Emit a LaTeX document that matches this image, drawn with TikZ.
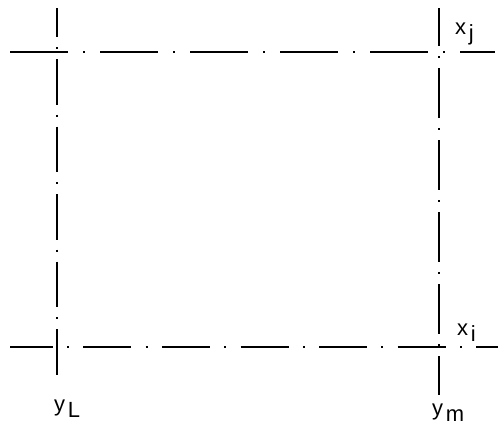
\documentclass[tikz,border=0pt]{standalone}
\usepackage{fontspec}
\setsansfont{Liberation Sans}
\usetikzlibrary{positioning}
\newlength{\px}
\setlength{\px}{0.02cm}
\newcommand{\lowsub}[2]{#1\kern1.5pt\raisebox{-0.6ex}{#2}}

\begin{document}
\begin{tikzpicture}[x=0.02cm, y=-0.02cm, line width=1.3pt,
    gridline/.style n args={2}{dash pattern=on #1\px off #2\px on 2\px off #2\px},
    lbl/.style={font=\sffamily\fontsize{12.5}{14}\selectfont, inner sep=0pt}]
    \useasboundingbox (0,0) rectangle (498,427);

    % line ends
    \coordinate (lt) at (57,8);
    \coordinate (lb) at (57,380);
    \coordinate (rt) at (439,8);
    \coordinate (rb) at (439,395);
    \coordinate (tl) at (10,52);
    \coordinate (tr) at (495,52);
    \coordinate (bl) at (10,347);
    \coordinate (br) at (498,347);

    % verticals
    \draw[gridline={45.5}{10}, dash phase=16.5\px] (lt) -- (lb);
    \draw[gridline={50}{10}, dash phase=12\px] (rt) -- (rb);

    % horizontals
    \draw[gridline={58}{15}] (tl) -- (tr);
    \draw[gridline={48}{14.3}, dash phase=5.3\px] (bl) -- (br);

    % labels
    \node[lbl, anchor=base west] (xj) at (454,34) {\lowsub{x}{j}};
    \node[lbl, anchor=base west] (xi) at (456,335) {\lowsub{x}{i}};
    \node[lbl, anchor=base west] (yL) at (53,411) {\lowsub{y}{L}};
    \node[lbl, anchor=base west] (ym) at (431,415) {\lowsub{y}{m}};
\end{tikzpicture}
\end{document}
